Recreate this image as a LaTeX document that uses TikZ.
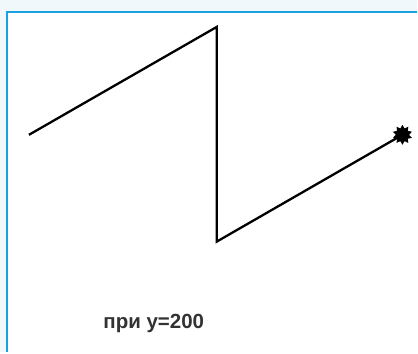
\documentclass[tikz,border=0pt]{standalone}
\usepackage{fontspec}
\setmainfont{Liberation Sans}
\usetikzlibrary{shapes.geometric}
\definecolor{pagebg}{HTML}{F0F8FB}
\definecolor{frameblue}{HTML}{1BA1E2}
\definecolor{labelgray}{HTML}{333333}

\begin{document}
\begin{tikzpicture}[x=1pt,y=-1pt,line width=2.3pt,
    blob/.style={star,star points=10,star point ratio=1.5,fill=black,inner sep=0pt,minimum size=20pt}]
  % page and panel
  \fill[pagebg] (0,0) rectangle (418,353);
  \fill[white] (7,12) rectangle (418,353);
  \draw[frameblue,line width=1.2pt] (7,353) -- (7,12) -- (418,12);
  \useasboundingbox (0,0) rectangle (418,353);
  % zigzag
  \coordinate (start) at (29,135);
  \coordinate (peak) at (217,27);
  \coordinate (low) at (217,242);
  \node[blob] (head) at (403,135) {};
  \draw[line join=miter] (start) -- (peak) -- (low) -- (head.center);
  \node[font=\bfseries\fontsize{20.5}{24}\selectfont,text=labelgray,anchor=base] (cap) at (154,329) {при y=200};
\end{tikzpicture}
\end{document}
